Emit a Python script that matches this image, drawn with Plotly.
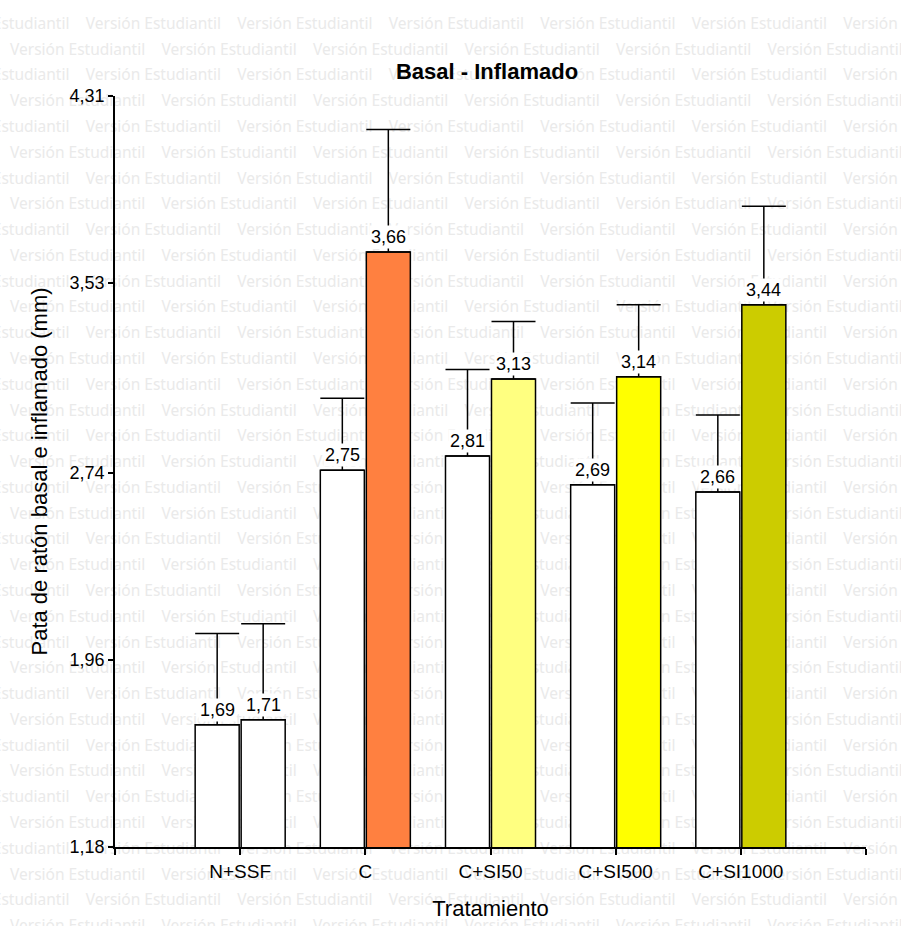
import plotly.graph_objects as go

# ---------------- data ----------------
groups = ["N+SSF", "C", "C+SI50", "C+SI500", "C+SI1000"]
basal = [1.69, 2.75, 2.81, 2.69, 2.66]
basal_err = [0.38, 0.30, 0.36, 0.34, 0.32]
inflamado = [1.71, 3.66, 3.13, 3.14, 3.44]
inflamado_err = [0.40, 0.51, 0.24, 0.30, 0.41]
inflamado_colors = ["#FFFFFF", "#FF8040", "#FFFF80", "#FFFF00", "#CCCC00"]
basal_colors = ["#FFFFFF"] * 5
y_ticks = [1.18, 1.96, 2.74, 3.53, 4.31]
chart_title = "Basal - Inflamado"
x_title = "Tratamiento"
y_title = "Pata de ratón basal e inflamado (mm)"
watermark = "Versión Estudiantil"

W, H = 901, 926
FONT = "Arial, Liberation Sans, sans-serif"


def fmt(v):
    return f"{v:.2f}".replace(".", ",")


fig = go.Figure()

# ---------------- watermark (background subplot in page pixels) ----------------
wx, wy = [], []
row_step = 25.78
col_step = 151.5
i = 0
while True:
    yrow = 25 + i * row_step
    if yrow > H + 10:
        break
    start = -65.75 if i % 2 == 0 else 10.0
    x = start
    while x < W:
        wx.append(x)
        wy.append(yrow)
        x += col_step
    i += 1

fig.add_trace(go.Scatter(
    x=wx, y=wy, mode="text", text=[watermark] * len(wx),
    textposition="middle right",
    textfont=dict(family="Noto Sans", size=15.5, color="#EAEAEA"),
    hoverinfo="skip", showlegend=False, xaxis="x", yaxis="y",
))

# ---------------- bars ----------------
xs = list(range(len(groups)))
bargap = 0.265
bargroupgap = 0.043
fig.add_trace(go.Bar(
    x=xs, y=basal, name="Basal", xaxis="x2", yaxis="y2",
    marker=dict(color=basal_colors, line=dict(color="black", width=1.5)),
    error_y=dict(type="data", symmetric=False, array=basal_err,
                 arrayminus=[0] * len(basal), color="black",
                 thickness=1.5, width=22),
    showlegend=False,
))
fig.add_trace(go.Bar(
    x=xs, y=inflamado, name="Inflamado", xaxis="x2", yaxis="y2",
    marker=dict(color=inflamado_colors, line=dict(color="black", width=1.5)),
    error_y=dict(type="data", symmetric=False, array=inflamado_err,
                 arrayminus=[0] * len(inflamado), color="black",
                 thickness=1.5, width=22),
    showlegend=False,
))

slot = (1 - bargap) / 2
annotations = []
for k in xs:
    for val, off in ((basal[k], -slot / 2), (inflamado[k], slot / 2)):
        annotations.append(dict(
            x=k + off, y=val, xref="x2", yref="y2", text=fmt(val),
            showarrow=False, yanchor="bottom", yshift=3,
            bgcolor="white", borderpad=1,
            font=dict(family=FONT, size=18, color="black"),
        ))

x_l, x_r = 115, 866
y_t, y_b = 96, 847

fig.update_layout(
    width=W, height=H,
    margin=dict(l=0, r=0, t=0, b=0),
    paper_bgcolor="white",
    plot_bgcolor="rgba(0,0,0,0)",
    barmode="group", bargap=bargap, bargroupgap=bargroupgap,
    title=dict(text="<b>" + chart_title + "</b>", x=487 / W, xanchor="center",
               y=1 - 71 / H, yanchor="middle", yref="paper", xref="paper",
               font=dict(family=FONT, size=22, color="black")),
    xaxis=dict(domain=[0, 1], range=[0, W], visible=False, fixedrange=True),
    yaxis=dict(domain=[0, 1], range=[H, 0], visible=False, fixedrange=True),
    xaxis2=dict(
        domain=[x_l / W, x_r / W], anchor="y2", range=[-1, len(groups)],
        tickvals=[-1] + xs + [len(groups)], ticktext=[""] + groups + [""],
        ticks="outside", ticklen=6, tickwidth=1.5, tickcolor="black",
        showline=True, linecolor="black", linewidth=1.5,
        showgrid=False, zeroline=False, automargin=False,
        tickfont=dict(family=FONT, size=19, color="black"),
        title=dict(text=x_title, standoff=20,
                   font=dict(family=FONT, size=22, color="black")),
    ),
    yaxis2=dict(
        domain=[1 - y_b / H, 1 - y_t / H], anchor="x2", range=[y_ticks[0], y_ticks[-1]],
        tickvals=y_ticks, ticktext=[fmt(v) for v in y_ticks],
        ticks="outside", ticklen=5, tickwidth=1.5, tickcolor="black",
        showline=True, linecolor="black", linewidth=1.5,
        showgrid=False, zeroline=False, automargin=False,
        tickfont=dict(family=FONT, size=18, color="black"),
        title=dict(text=y_title, standoff=16,
                   font=dict(family=FONT, size=22, color="black")),
    ),
    annotations=annotations,
)

fig.write_html("out.html")
